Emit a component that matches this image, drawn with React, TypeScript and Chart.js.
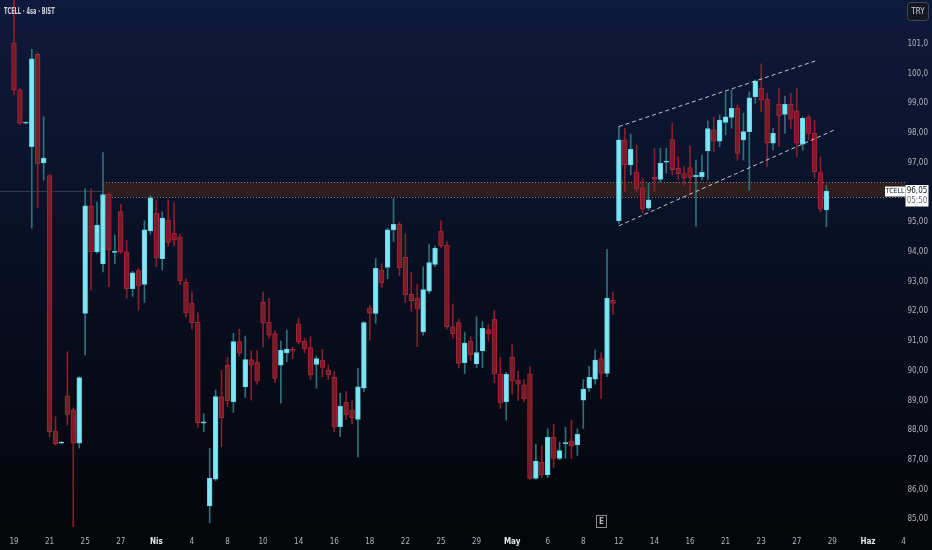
import React, { useEffect, useRef } from "react";
import { Chart, registerables } from "chart.js";
Chart.register(...registerables);

// ---- Data (4h candles, TCELL · BIST) ----
const opens = [
  101.04, 99.45, 98.33, 97.54, 100.65, 97.0, 96.57, 87.97, 87.56, 89.16,
  88.68, 87.56, 91.93, 95.55, 94.0, 93.6, 95.94, 93.98, 95.36, 94.0,
  92.76, 93.37, 92.91, 94.71, 95.31, 93.77, 95.07, 94.63, 94.5, 92.98,
  92.29, 91.63, 88.24, 85.45, 86.35, 89.13, 90.19, 88.96, 90.98, 89.46,
  90.38, 90.28, 92.3, 91.64, 91.25, 90.19, 90.6, 90.72, 91.58, 90.99,
  90.78, 90.21, 90.36, 90.02, 89.78, 88.12, 88.94, 88.68, 88.36, 89.41,
  92.12, 91.93, 93.39, 93.48, 94.74, 94.93, 93.82, 92.57, 92.44, 91.31,
  92.68, 93.58, 94.7, 94.23, 91.48, 91.62, 90.27, 91.0, 90.23, 90.67,
  91.39, 91.73, 89.89, 88.96, 90.47, 89.69, 89.53, 89.89, 86.38, 86.92,
  86.49, 87.76, 87.05, 87.55, 87.63, 87.5, 89.01, 89.41, 89.72, 90.41,
  89.91, 92.38, 95.05, 97.77, 96.93, 96.69, 96.16, 95.47, 96.51, 96.44,
  97.02, 97.78, 96.81, 96.64, 96.84, 96.53, 96.53, 97.4, 98.1, 97.73,
  98.36, 98.53, 98.83, 97.77, 98.05, 99.23, 99.51, 99.14, 97.66, 98.97,
  98.63, 98.97, 98.75, 97.63, 98.55, 97.99, 96.67, 95.41,
];
const highs = [
  102.6, 99.5, 98.38, 100.82, 100.7, 98.55, 96.6, 88.45, 87.62, 90.64,
  88.75, 89.8, 96.12, 96.12, 95.69, 97.34, 96.0, 94.57, 95.6, 94.38,
  93.35, 93.45, 95.05, 95.9, 95.75, 95.35, 95.75, 95.65, 94.6, 93.1,
  92.66, 91.95, 88.55, 87.39, 89.35, 90.02, 90.45, 91.26, 91.4, 91.17,
  90.68, 90.68, 92.66, 92.45, 91.35, 91.0, 91.37, 90.8, 91.77, 91.1,
  91.15, 90.5, 90.72, 90.2, 89.98, 89.24, 89.3, 89.0, 90.08, 91.65,
  92.2, 93.78, 93.6, 94.8, 95.8, 95.0, 94.6, 93.3, 92.9, 93.5,
  94.25, 94.2, 95.05, 94.35, 92.25, 91.75, 91.3, 91.15, 91.82, 91.65,
  91.55, 92.04, 90.45, 89.95, 90.87, 89.98, 89.7, 90.13, 87.52, 87.48,
  88.05, 88.2, 87.6, 88.1, 88.34, 88.05, 89.7, 90.15, 90.7, 90.6,
  94.09, 92.65, 98.22, 98.16, 97.97, 97.6, 96.48, 96.31, 97.49, 97.49,
  97.49, 98.33, 97.2, 96.87, 97.57, 97.09, 97.26, 98.41, 98.55, 98.61,
  99.39, 99.45, 98.95, 98.67, 99.39, 99.79, 100.33, 99.34, 98.16, 99.51,
  99.25, 99.34, 99.51, 98.55, 98.61, 98.44, 97.2, 96.25,
];
const lows = [
  99.28, 98.28, 98.31, 94.8, 95.48, 96.42, 87.78, 87.5, 87.54, 88.17,
  84.75, 87.4, 90.53, 92.72, 93.95, 93.33, 92.83, 93.6, 93.95, 92.44,
  92.5, 92.04, 92.3, 94.6, 93.5, 93.39, 94.2, 94.2, 92.9, 91.8,
  91.4, 88.1, 87.95, 84.88, 86.3, 87.44, 88.8, 88.6, 90.5, 89.1,
  89.01, 89.55, 90.8, 91.1, 89.6, 88.91, 90.3, 90.4, 90.9, 90.6,
  89.7, 89.41, 89.8, 89.7, 87.95, 87.78, 88.35, 88.2, 87.1, 89.3,
  91.03, 91.6, 92.8, 93.1, 94.35, 93.2, 92.3, 92.0, 90.81, 91.2,
  92.6, 93.5, 94.15, 91.4, 91.1, 90.1, 89.9, 90.35, 90.1, 90.1,
  91.0, 89.6, 88.73, 88.34, 89.2, 89.0, 88.95, 86.35, 86.35, 86.4,
  86.4, 86.75, 87.0, 87.05, 87.05, 87.15, 88.06, 89.3, 89.55, 89.07,
  89.8, 91.9, 94.96, 96.03, 96.6, 96.03, 95.3, 95.4, 96.03, 96.36,
  96.65, 96.59, 96.42, 96.25, 95.97, 94.87, 96.42, 96.42, 97.37, 97.54,
  97.94, 98.16, 97.09, 97.09, 96.08, 99.0, 98.72, 96.87, 97.43, 97.54,
  97.99, 98.16, 97.2, 97.43, 97.77, 96.48, 95.35, 94.85,
];
const closes = [
  99.45, 98.33, 98.36, 100.5, 96.96, 97.16, 87.95, 87.55, 87.6, 88.53,
  87.56, 89.77, 95.55, 94.0, 94.9, 95.93, 94.06, 94.02, 94.0, 92.76,
  93.3, 92.86, 94.74, 95.82, 93.8, 95.14, 94.32, 94.4, 93.02, 91.95,
  91.62, 88.25, 88.28, 86.38, 89.13, 88.42, 88.99, 90.98, 90.59, 90.38,
  90.19, 89.65, 91.6, 91.2, 89.74, 90.69, 90.73, 90.66, 90.96, 90.74,
  89.86, 90.41, 90.11, 89.86, 88.1, 88.8, 88.51, 88.42, 89.46, 91.62,
  91.93, 93.45, 92.96, 94.74, 94.93, 93.47, 92.55, 92.36, 92.07, 92.73,
  93.64, 94.12, 94.21, 91.48, 91.24, 90.25, 90.93, 90.53, 90.61, 91.43,
  91.24, 89.89, 88.92, 89.88, 89.65, 89.55, 89.05, 86.38, 86.96, 86.49,
  87.76, 87.05, 87.31, 87.57, 87.48, 87.86, 89.38, 89.78, 90.36, 89.91,
  92.44, 92.27, 97.77, 96.93, 97.45, 96.11, 95.44, 95.75, 96.44, 96.98,
  97.06, 96.77, 96.63, 96.48, 96.51, 96.59, 96.68, 98.15, 97.73, 98.44,
  98.55, 98.83, 97.32, 98.05, 99.19, 99.75, 99.11, 97.66, 97.99, 98.59,
  98.97, 98.47, 97.66, 98.5, 97.99, 96.7, 95.44, 96.05,
];

const tickIndex = [0, 6, 12, 18, 24, 30, 36, 42, 48, 54, 60, 66, 72, 78, 84, 90, 96, 102, 108, 114, 120, 126, 132, 138, 144, 150];
const tickLabels = ["19", "21", "25", "27", "Nis", "4", "8", "10", "14", "16", "18", "22", "25", "29", "May", "6", "8", "12", "14", "16", "21", "23", "27", "29", "Haz", "4"];
const monthLabels = ["Nis", "May", "Haz"];
const priceTicks = [85, 86, 87, 88, 89, 90, 91, 92, 93, 94, 95, 96, 97, 98, 99, 100, 101];

const zoneStartIndex = 15;
const zoneTop = 96.34;
const zoneBottom = 95.86;
const lastPrice = 96.05;
const lastPriceText = "96,05";
const countdownText = "05:50";
const earningsIndex = 99;
const upperChannel = [{ x: 102, y: 98.22 }, { x: 135.6, y: 100.46 }];
const lowerChannel = [{ x: 102, y: 94.88 }, { x: 138.6, y: 98.13 }];

const FONT = '"Liberation Sans Narrow", "DejaVu Sans Condensed", Roboto, sans-serif';

const UP_FILL = "#80e6f3";
const UP_BORDER = "#62d3e3";
const UP_WICK = "#2f717b";
const DN_FILL = "#7a1b27";
const DN_BORDER = "#a52638";
const DN_WICK = "#8a1f2c";

const fmtPrice = (v: number) => (v >= 100 ? v.toFixed(1) : v.toFixed(2)).replace(".", ",");
const labelFor = (v: number) => {
  const k = tickIndex.indexOf(Math.round(v));
  return k >= 0 ? tickLabels[k] : "";
};

const bgPlugin = {
  id: "bgGradient",
  beforeDraw(chart: any) {
    const { ctx, width, height } = chart;
    const g = ctx.createLinearGradient(0, 0, 0, height);
    g.addColorStop(0, "#0e1a3b");
    g.addColorStop(0.5, "#090f22");
    g.addColorStop(1, "#040508");
    ctx.save();
    ctx.fillStyle = g;
    ctx.fillRect(0, 0, width, height);
    ctx.restore();
  },
};

const zonePlugin = {
  id: "zone",
  beforeDatasetsDraw(chart: any) {
    const { ctx, chartArea, scales } = chart;
    const xs = scales.x;
    const ys = scales.y;
    const x0 = xs.getPixelForValue(zoneStartIndex);
    const x1 = chartArea.right;
    const yT = ys.getPixelForValue(zoneTop);
    const yB = ys.getPixelForValue(zoneBottom);
    const yP = ys.getPixelForValue(lastPrice);
    ctx.save();
    ctx.strokeStyle = "rgba(125,135,155,0.35)";
    ctx.lineWidth = 1;
    ctx.beginPath();
    ctx.moveTo(chartArea.left, Math.round(yP) + 0.5);
    ctx.lineTo(x0, Math.round(yP) + 0.5);
    ctx.stroke();
    ctx.fillStyle = "rgba(82,42,20,0.52)";
    ctx.fillRect(x0, yT, x1 - x0, yB - yT);
    ctx.setLineDash([1, 2]);
    ctx.strokeStyle = "rgba(205,185,175,0.7)";
    ctx.beginPath();
    ctx.moveTo(x0, Math.round(yT) + 0.5);
    ctx.lineTo(x1, Math.round(yT) + 0.5);
    ctx.moveTo(x0, Math.round(yB) + 0.5);
    ctx.lineTo(x1, Math.round(yB) + 0.5);
    ctx.stroke();
    ctx.restore();
  },
};

const overlayPlugin = {
  id: "overlay",
  afterDraw(chart: any) {
    const { ctx, scales } = chart;
    const ys = scales.y;
    const xs = scales.x;
    const yP = ys.getPixelForValue(lastPrice);
    ctx.save();
    // title (horizontally condensed)
    ctx.save();
    ctx.translate(4, 12);
    ctx.scale(0.66, 1);
    ctx.font = `bold 8.5px ${FONT}`;
    ctx.fillStyle = "#d1d4dc";
    ctx.textAlign = "left";
    ctx.textBaseline = "middle";
    ctx.fillText("TCELL · 4sa · BIST", 0, 0);
    ctx.restore();

    ctx.textBaseline = "middle";
    // symbol label
    ctx.fillStyle = "#ffffff";
    ctx.fillRect(885, yP - 4.5, 20.5, 10);
    ctx.fillStyle = "#131722";
    ctx.font = `7px ${FONT}`;
    ctx.textAlign = "center";
    ctx.fillText("TCELL", 895.2, yP + 0.6);

    // price label
    ctx.fillStyle = "#ffffff";
    ctx.fillRect(905.5, yP - 6, 23, 21.5);
    ctx.fillStyle = "#131722";
    ctx.font = `8px ${FONT}`;
    ctx.fillText(lastPriceText, 917, yP);
    ctx.fillStyle = "#6a6d78";
    ctx.fillText(countdownText, 917, yP + 10);

    // currency box
    ctx.beginPath();
    (ctx as any).roundRect(907.5, 2.5, 21, 18, 3);
    ctx.fillStyle = "#131722";
    ctx.fill();
    ctx.strokeStyle = "#434651";
    ctx.lineWidth = 1;
    ctx.stroke();
    ctx.fillStyle = "#d1d4dc";
    ctx.font = `8px ${FONT}`;
    ctx.fillText("TRY", 918, 12);

    // earnings marker
    const ex = xs.getPixelForValue(earningsIndex);
    ctx.fillStyle = "rgba(0,0,0,0.6)";
    ctx.fillRect(ex - 5, 515.5, 10, 12);
    ctx.strokeStyle = "#8a8d96";
    ctx.strokeRect(Math.round(ex - 5) + 0.5, 515.5, 10, 12);
    ctx.fillStyle = "#b2b5be";
    ctx.font = `bold 8px ${FONT}`;
    ctx.fillText("E", ex + 0.5, 522);
    ctx.restore();
  },
};

export default function App() {
  const ref = useRef<HTMLCanvasElement | null>(null);

  useEffect(() => {
    if (!ref.current) return;
    const idx = opens.map((_, i) => i);
    const isUp = idx.map((i) => closes[i] >= opens[i]);
    const chart = new Chart(ref.current, {
      type: "bar",
      data: {
        datasets: [
          {
            type: "line",
            data: upperChannel,
            borderColor: "rgba(225,228,236,0.85)",
            borderWidth: 1,
            borderDash: [4, 3],
            pointRadius: 0,
            order: 0,
          } as any,
          {
            type: "line",
            data: lowerChannel,
            borderColor: "rgba(225,228,236,0.85)",
            borderWidth: 1,
            borderDash: [4, 3],
            pointRadius: 0,
            order: 0,
          } as any,
          {
            type: "bar",
            data: idx.map((i) => ({ x: i, y: [opens[i], closes[i]] })),
            backgroundColor: isUp.map((u) => (u ? UP_FILL : DN_FILL)),
            borderColor: isUp.map((u) => (u ? UP_BORDER : DN_BORDER)),
            borderWidth: 1,
            borderSkipped: false,
            barThickness: 4.8,
            minBarLength: 1,
            grouped: false,
            order: 1,
          } as any,
          {
            type: "bar",
            data: idx.map((i) => ({ x: i, y: [lows[i], highs[i]] })),
            backgroundColor: isUp.map((u) => (u ? UP_WICK : DN_WICK)),
            borderWidth: 0,
            barThickness: 1,
            grouped: false,
            order: 2,
          } as any,
        ],
      },
      options: {
        animation: false,
        responsive: true,
        maintainAspectRatio: false,
        events: [],
        layout: { padding: { left: 0, right: 4, top: 0, bottom: 0 } },
        plugins: { legend: { display: false }, tooltip: { enabled: false } },
        scales: {
          x: {
            type: "linear",
            min: -2.36,
            max: 150.25,
            offset: false,
            grid: { display: false, drawTicks: false },
            border: { display: false },
            afterBuildTicks: (axis: any) => {
              axis.ticks = tickIndex.map((v) => ({ value: v }));
            },
            afterFit: (axis: any) => {
              axis.height = 20;
              axis.paddingLeft = 0;
              axis.paddingRight = 0;
            },
            ticks: {
              autoSkip: false,
              maxRotation: 0,
              padding: 7,
              callback: (v: any) => labelFor(Number(v)),
              color: (c: any) => (monthLabels.includes(labelFor(c.tick?.value ?? -1)) ? "#e6e8ee" : "#b2b5be"),
              font: (c: any) => ({
                family: FONT,
                size: 8,
                weight: monthLabels.includes(labelFor(c.tick?.value ?? -1)) ? "bold" : "normal",
              }),
            },
          },
          y: {
            type: "linear",
            position: "right",
            min: 84.64,
            max: 102.48,
            grid: { display: false, drawTicks: false },
            border: { display: false },
            afterBuildTicks: (axis: any) => {
              axis.ticks = priceTicks.map((v) => ({ value: v }));
            },
            afterFit: (axis: any) => {
              axis.width = 23;
              axis.paddingTop = 0;
              axis.paddingBottom = 0;
            },
            ticks: {
              crossAlign: "far",
              padding: 0,
              color: "#b2b5be",
              font: { family: FONT, size: 8 },
              callback: (v: any) => fmtPrice(Number(v)),
            },
          },
        },
      } as any,
      plugins: [bgPlugin, zonePlugin, overlayPlugin],
    });
    return () => chart.destroy();
  }, []);

  return (
    <div style={{ position: "fixed", left: 0, top: 0, width: 932, height: 550 }}>
      <canvas ref={ref} />
    </div>
  );
}
